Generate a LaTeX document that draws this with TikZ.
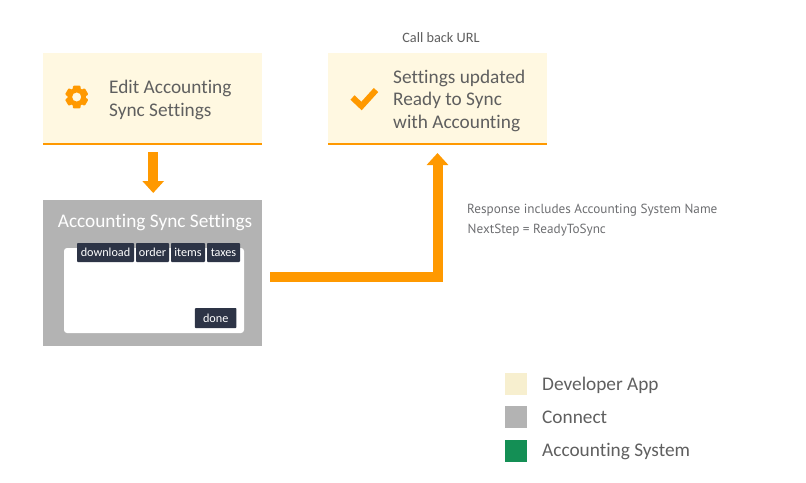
\documentclass[tikz,border=0pt]{standalone}
\usepackage{fontspec}
\setmainfont{Carlito}[Ligatures=NoCommon]
\newfontfamily\notefont{PT Sans}
\usetikzlibrary{arrows.meta,positioning,calc}
\definecolor{appcream}{HTML}{FFF8E1}
\definecolor{appkey}{HTML}{F7EFCF}
\definecolor{flowora}{HTML}{FF9900}
\definecolor{connectgray}{HTML}{B3B3B3}
\definecolor{tabdark}{HTML}{2D3446}
\definecolor{acctgreen}{HTML}{148F55}
\definecolor{labelgray}{HTML}{5F5F5F}
\definecolor{notegray}{HTML}{6D6E71}
\tikzset{
  appbox/.style={rectangle, fill=appcream, minimum width=219pt, minimum height=92pt, inner sep=0pt, outer sep=0pt},
  applabel/.style={anchor=west, align=left, inner sep=0pt, text=labelgray, font=\fontsize{19.3}{22.8}\selectfont},
  tabbox/.style={rectangle, rounded corners=0.8pt, fill=tabdark, text=white, inner sep=0pt, outer sep=0pt, minimum height=19pt, font=\fontsize{12.2}{13}\selectfont},
  keybox/.style={rectangle, minimum width=22pt, minimum height=22pt, inner sep=0pt, outer sep=0pt},
  keylabel/.style={anchor=west, inner sep=0pt, text=labelgray, font=\fontsize{19.3}{23}\selectfont},
  notelabel/.style={anchor=west, inner sep=0pt, text=notegray, font=\notefont\fontsize{13.2}{14}\selectfont},
  flowarrow/.style={-{Triangle[length=12pt,width=21pt]}, line width=10pt, flowora}
}
\begin{document}
\begin{tikzpicture}[x=1pt,y=-1pt]
\useasboundingbox (0,0) rectangle (806,482);

\node[appbox] (editbox) at (152.5,99) {};
\draw[line width=2pt,flowora] ($(editbox.south west)+(0,-1)$) -- ($(editbox.south east)+(0,-1)$);
\node[appbox] (readybox) at (437.5,99) {};
\draw[line width=2pt,flowora] ($(readybox.south west)+(0,-1)$) -- ($(readybox.south east)+(0,-1)$);

% gear icon
\fill[flowora,even odd rule] (76.7,97) circle (4.6pt) (76.7,97) circle (9.3pt);
\foreach \a in {0,60,...,300}
  \fill[flowora,rounded corners=1pt,rotate around={\a:(76.7,97)}] (72.9,85.6) rectangle (80.5,90);
% check icon
\draw[line width=6pt,flowora] (352.5,97.5) -- (361.5,106) -- (376,90);

\node[applabel] (edittext) at (109,100.3) {Edit Accounting\\Sync Settings};
\node[applabel] (readytext) at (393,100.8) {Settings updated\\Ready to Sync\\with Accounting};
\node[inner sep=0pt, text=labelgray, font=\fontsize{14.3}{16}\selectfont] (callback) at (441,37.5) {Call back URL};

\node[rectangle, fill=connectgray, minimum width=219pt, minimum height=146pt, inner sep=0pt, outer sep=0pt] (syncbox) at (152.5,273) {};
\node[inner sep=0pt, text=white, font=\fontsize{19.3}{23}\selectfont] (synctitle) at (155,222.5) {Accounting Sync Settings};
\node[rectangle, rounded corners=3pt, fill=white, minimum width=180pt, minimum height=85pt, inner sep=0pt] (syncpanel) at (154,290.5) {};
\node[tabbox, minimum width=57pt] (tabdownload) at (105.5,252.5) {download};
\node[tabbox, minimum width=33pt] (taborder) at (152.5,252.5) {order};
\node[tabbox, minimum width=34pt] (tabitems) at (188,252.5) {items};
\node[tabbox, minimum width=33pt] (tabtaxes) at (223.5,252.5) {taxes};
\node[tabbox, minimum width=41.5pt, minimum height=20pt] (donebtn) at (215.7,318) {done};

\draw[flowarrow, transform canvas={xshift=0.7pt}, shorten <=7pt, shorten >=7pt] (editbox.south) -- (syncbox.north);
\coordinate (syncout) at (270,276.5);
\draw[flowarrow, shorten >=8pt] (syncout) -| (readybox.south);

\node[notelabel] (noteresp) at (467,209.7) {Response includes Accounting System Name};
\node[notelabel] (notestep) at (467.5,230) {NextStep = ReadyToSync};

\node[keybox, fill=appkey] (keyapp) at (516,384) {};
\node[keylabel] (keyapptext) at (542,385) {Developer App};
\node[keybox, fill=connectgray] (keyconn) at (516,417) {};
\node[keylabel] (keyconntext) at (542,417.5) {Connect};
\node[keybox, fill=acctgreen] (keyacct) at (516,451) {};
\node[keylabel] (keyaccttext) at (542,452) {Accounting System};
\end{tikzpicture}
\end{document}
